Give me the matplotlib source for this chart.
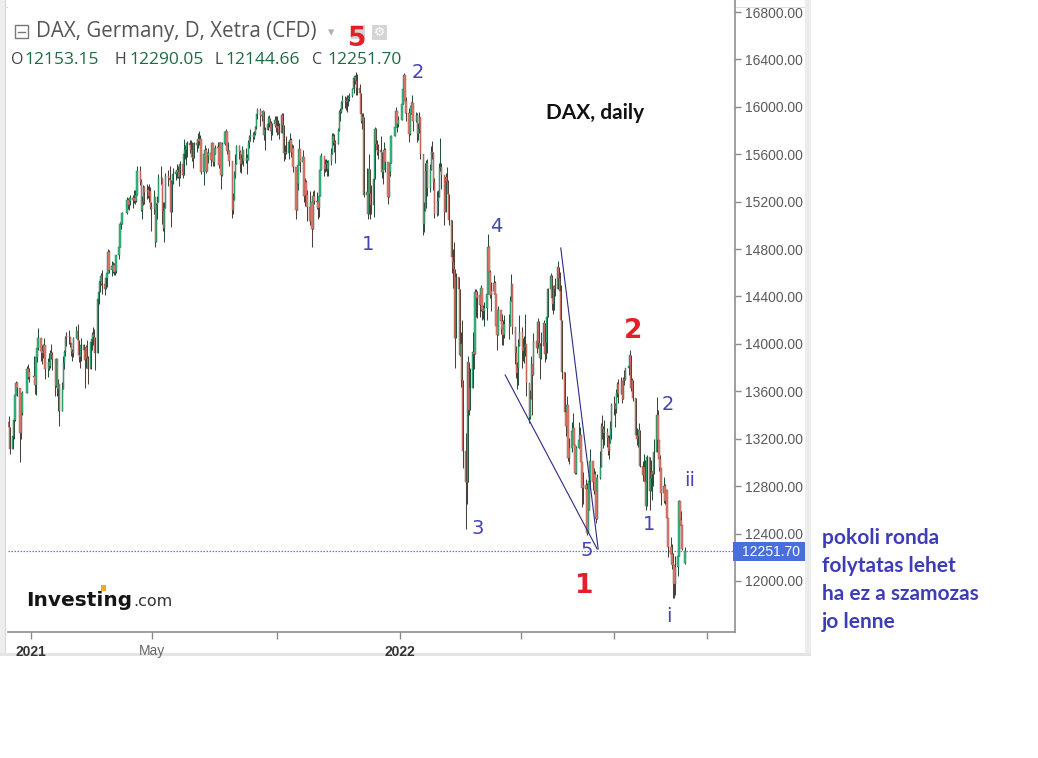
import numpy as np
import pandas as pd
import matplotlib
matplotlib.use("Agg")
import matplotlib.pyplot as plt
import matplotlib.dates as mdates
from matplotlib.patches import Rectangle
from matplotlib.lines import Line2D

# ---------------- data (daily DAX, Xetra CFD) ----------------
first_open = 13340
# Dec 2020 (from Dec 10)
close_2020 = [13295, 13114, 13223, 13362, 13565, 13667, 13630, 13246, 13418, 13587, 13790, 13761, 13719]
high_2020 = [13390, 13300, 13360, 13400, 13590, 13690, 13680, 13530, 13440, 13600, 13815, 13830, 13800]
low_2020 = [13200, 13070, 13150, 13200, 13350, 13580, 13560, 13000, 13200, 13400, 13630, 13700, 13680]

close_2021 = [
    13726, 13651, 13892, 13968, 14049, 13936, 13925, 13940, 13988, 13787, 13848, 13815, 13921, 13906, 13873, 13643, 13870, 13620, 13665, 13433,
    13622, 13835, 13933, 14060, 14057, 14060, 14011, 13932, 13921, 14050, 14109, 14034, 13909, 13887, 13993, 13950, 13865, 13976, 13879, 13786,
    14012, 14039, 14080, 14056, 13920, 14380, 14437, 14528, 14569, 14502, 14461, 14557, 14596, 14776, 14621, 14657, 14662, 14610, 14617, 14749, 14818, 15008, 15008,
    15107, 15212, 15176, 15203, 15234, 15215, 15234, 15209, 15255, 15460, 15368, 15129, 15196, 15320, 15280, 15296, 15249, 15292, 15155, 15136,
    15236, 14856, 15170, 15197, 15400, 15400, 15120, 14977, 15150, 15417, 15397, 15386, 15114, 15370, 15437, 15437, 15465, 15450, 15407, 15520, 15421,
    15603, 15632, 15632, 15693, 15677, 15640, 15581, 15571, 15693, 15674, 15729, 15710, 15728, 15448, 15603, 15636, 15456, 15589, 15608, 15554, 15691, 15531,
    15604, 15650, 15661, 15511, 15692, 15421, 15688, 15790, 15789, 15629, 15629, 15540, 15133, 15216, 15422, 15514, 15669, 15618, 15519, 15570, 15640, 15544,
    15568, 15555, 15692, 15744, 15761, 15745, 15770, 15826, 15937, 15977, 15925, 15921, 15965, 15765, 15808, 15852, 15906, 15860, 15794, 15852, 15888, 15835,
    15824, 15840, 15781, 15932, 15843, 15610, 15623, 15609, 15701, 15722, 15616, 15652, 15490, 15132, 15349, 15506, 15644, 15531, 15573, 15248, 15365, 15260,
    15156, 15036, 15195, 14973, 15250, 15206, 15199, 15147, 15250, 15463, 15587, 15474, 15516, 15522, 15473, 15543, 15599, 15757, 15705, 15696, 15688,
    15806, 15954, 15959, 16029, 16054, 16046, 16040, 16067, 16083, 16094, 16148, 16247, 16251, 16221, 16160, 16116, 15937, 15878, 15917, 15257, 15280, 15100,
    15473, 15263, 15170, 15387, 15814, 15687, 15639, 15623, 15622, 15453, 15476, 15637, 15531, 15239, 15447, 15524, 15756, 15833, 15964, 15852, 15885,
]
high_2021 = [
    13900, 13750, 13920, 14000, 14131, 14030, 13990, 14000, 14050, 13950, 13880, 13920, 13950, 14000, 13930, 13850, 13880, 13830, 13700, 13620,
    13680, 13900, 13950, 14070, 14100, 14120, 14060, 14010, 13960, 14060, 14150, 14170, 14000, 13950, 14050, 14000, 13880, 13990, 14030, 13900,
    14030, 14100, 14140, 14130, 14000, 14400, 14490, 14550, 14600, 14620, 14530, 14590, 14650, 14800, 14790, 14700, 14690, 14680, 14680, 14750, 14830, 15030, 15040,
    15110, 15240, 15230, 15240, 15260, 15260, 15300, 15300, 15320, 15500, 15500, 15390, 15250, 15340, 15330, 15350, 15330, 15350, 15320, 15200,
    15300, 15240, 15190, 15250, 15430, 15500, 15380, 15200, 15200, 15440, 15470, 15500, 15330, 15400, 15480, 15470, 15520, 15500, 15470, 15540, 15530,
    15730, 15680, 15690, 15710, 15720, 15720, 15700, 15620, 15700, 15730, 15780, 15800, 15760, 15630, 15630, 15680, 15650, 15620, 15650, 15680, 15700, 15640,
    15640, 15680, 15700, 15700, 15700, 15600, 15700, 15800, 15810, 15800, 15700, 15640, 15430, 15270, 15460, 15600, 15680, 15680, 15640, 15600, 15670, 15600,
    15650, 15600, 15720, 15760, 15810, 15790, 15800, 15840, 15940, 15990, 15990, 15960, 15970, 15900, 15830, 15920, 15930, 15910, 15880, 15860, 15920, 15920,
    15920, 15890, 15860, 15950, 15950, 15830, 15680, 15750, 15710, 15780, 15740, 15690, 15680, 15450, 15390, 15540, 15730, 15640, 15640, 15480, 15400, 15380,
    15300, 15290, 15200, 15050, 15290, 15300, 15280, 15210, 15290, 15480, 15610, 15560, 15560, 15560, 15550, 15550, 15650, 15780, 15780, 15770, 15720,
    15820, 15970, 15990, 16050, 16100, 16090, 16080, 16100, 16100, 16120, 16160, 16260, 16270, 16290, 16280, 16190, 16000, 15950, 15950, 15700, 15480, 15420,
    15600, 15460, 15340, 15420, 15830, 15820, 15720, 15690, 15750, 15560, 15520, 15700, 15650, 15480, 15460, 15540, 15760, 15870, 16000, 15950, 15920,
]
low_2021 = [
    13670, 13580, 13570, 13850, 13950, 13860, 13830, 13880, 13900, 13700, 13720, 13780, 13800, 13870, 13780, 13560, 13640, 13560, 13430, 13310,
    13450, 13640, 13790, 13900, 13980, 14000, 13970, 13900, 13860, 13890, 14060, 13990, 13850, 13800, 13860, 13880, 13630, 13800, 13850, 13660,
    13860, 13950, 13990, 13950, 13780, 14020, 14340, 14440, 14500, 14420, 14410, 14460, 14480, 14620, 14600, 14570, 14600, 14580, 14580, 14600, 14720, 14820, 14970,
    15010, 15100, 15140, 15130, 15170, 15150, 15190, 15180, 15200, 15300, 15340, 15120, 15050, 15170, 15180, 15220, 15230, 15200, 15140, 14950,
    15100, 14820, 14900, 15050, 15200, 15350, 15010, 14950, 14860, 15200, 15330, 15320, 14990, 15120, 15350, 15380, 15400, 15400, 15330, 15400, 15400,
    15560, 15560, 15510, 15580, 15610, 15600, 15540, 15480, 15590, 15620, 15650, 15680, 15600, 15430, 15340, 15560, 15440, 15500, 15530, 15500, 15540, 15500,
    15500, 15600, 15620, 15480, 15530, 15310, 15420, 15680, 15700, 15600, 15570, 15500, 15060, 15100, 15230, 15400, 15520, 15560, 15450, 15440, 15520, 15500,
    15530, 15430, 15580, 15650, 15710, 15700, 15730, 15760, 15810, 15900, 15840, 15880, 15820, 15720, 15640, 15820, 15830, 15830, 15720, 15760, 15830, 15790,
    15760, 15770, 15730, 15800, 15800, 15540, 15560, 15600, 15560, 15640, 15580, 15570, 15450, 15050, 15160, 15300, 15520, 15450, 15450, 15200, 15160, 15160,
    15040, 15000, 14990, 14820, 15100, 15180, 15140, 15050, 15070, 15330, 15480, 15420, 15450, 15460, 15420, 15420, 15510, 15610, 15680, 15620, 15530,
    15700, 15800, 15880, 15950, 15980, 15990, 15970, 15960, 16010, 16050, 16080, 16120, 16190, 16100, 16100, 16050, 15860, 15810, 15860, 15240, 15180, 15050,
    15250, 15050, 15100, 15070, 15450, 15660, 15590, 15560, 15600, 15400, 15350, 15560, 15450, 15180, 15250, 15420, 15560, 15750, 15880, 15790, 15830,
]

close_2022 = [
    16020, 16152, 16271, 16052, 15948, 15768, 15942, 16010, 16031, 15883, 15933, 15772, 15810, 15912, 15603, 15011, 15123, 15460, 15524, 15318, 15471,
    15619, 15613, 15368, 15100, 15207, 15242, 15482, 15490, 15425, 15113, 15412, 15370, 15268, 15042, 14731, 14693, 14631, 14052, 14567, 14461,
    13905, 14000, 13698, 13094, 12835, 12831, 13848, 13443, 13628, 13929, 13918, 14441, 14388, 14413, 14326, 14473, 14283, 14274, 14306, 14418, 14820, 14606, 14415,
    14446, 14518, 14424, 14152, 14078, 14284, 14193, 14125, 14077, 14164, 14153, 14362, 14502, 14142, 13924, 13757, 13793, 13979, 14098,
    13940, 13970, 13971, 14000, 13674, 13381, 13535, 13828, 13739, 14027, 13964, 14186, 14008, 13882, 13982, 14175, 13919, 14008, 14231, 14462, 14575, 14388,
    14340, 14485, 14460, 14653, 14556, 14446, 14198, 13761, 13427, 13304, 13483, 13038, 13126, 13265, 13292, 13145, 12912, 13118, 13186, 13231, 13003, 12784,
    12813, 12773, 12401, 12595, 12843, 13015, 12832, 12906, 12756, 12519, 12865, 12959, 13308, 13282, 13246, 13254, 13210, 13097, 13166, 13282, 13484,
    13479, 13449, 13587, 13662, 13574, 13688, 13535, 13700, 13694, 13795, 13817, 13910, 13627, 13697, 13544, 13230, 13195, 13220, 13271, 12971, 12892, 12961, 12835,
    12631, 13050, 12761, 12871, 12916, 12904, 13088, 13403, 13189, 13028, 12956, 12741, 12803, 12671, 12767, 12531, 12284, 12228, 12140, 12139, 11976, 12114,
    12209, 12671, 12517, 12471, 12273, 12251.70,
]
high_2022 = [
    16030, 16200, 16285, 16150, 16080, 15990, 15950, 16040, 16100, 16000, 15960, 15950, 15860, 15960, 15800, 15500, 15200, 15530, 15550, 15560, 15520,
    15670, 15710, 15620, 15400, 15290, 15300, 15530, 15740, 15530, 15250, 15440, 15490, 15380, 15160, 15000, 14800, 14860, 14600, 14600, 14550,
    14400, 14100, 14200, 13650, 13250, 13100, 13900, 13800, 13800, 14100, 14100, 14460, 14460, 14450, 14430, 14500, 14420, 14330, 14350, 14430, 14925, 14830, 14620,
    14520, 14580, 14530, 14350, 14170, 14320, 14280, 14250, 14200, 14240, 14250, 14400, 14590, 14410, 14070, 13980, 13850, 14040, 14240,
    14140, 14050, 14070, 14250, 13900, 13580, 13610, 13900, 13760, 14090, 14070, 14220, 14190, 13920, 14100, 14200, 14120, 14040, 14260, 14470, 14600, 14580,
    14420, 14500, 14560, 14700, 14640, 14610, 14500, 14000, 13630, 13480, 13560, 13450, 13210, 13340, 13420, 13240, 13100, 13140, 13340, 13300, 13170, 12890,
    12920, 12860, 12830, 12640, 12900, 13110, 12960, 12950, 12930, 12770, 12900, 13100, 13330, 13400, 13310, 13360, 13290, 13230, 13230, 13350, 13500,
    13560, 13500, 13620, 13680, 13700, 13720, 13620, 13720, 13780, 13800, 13830, 13950, 13900, 13710, 13690, 13420, 13290, 13260, 13330, 13270, 13010, 13070, 13020,
    12870, 13060, 12800, 13020, 12930, 13000, 13200, 13550, 13440, 13160, 13060, 12850, 12880, 12820, 12770, 12660, 12500, 12370, 12310, 12240, 12070, 12210,
    12240, 12680, 12650, 12590, 12420, 12290.05,
]
low_2022 = [
    15900, 16030, 16150, 15950, 15880, 15700, 15760, 15950, 15970, 15800, 15870, 15700, 15720, 15780, 15560, 14920, 14940, 15250, 15150, 15250, 15280,
    15470, 15560, 15300, 15060, 15080, 15090, 15280, 15460, 15310, 15000, 15130, 15300, 15170, 15000, 14600, 14470, 14600, 13800, 14100, 14050,
    13900, 13640, 13600, 12950, 12440, 12650, 13200, 13400, 13500, 13760, 13790, 14100, 14230, 14220, 14230, 14280, 14200, 14210, 14150, 14200, 14450, 14500, 14390,
    14280, 14420, 14380, 14130, 13950, 14100, 14080, 13990, 13990, 14050, 14040, 14250, 14390, 14080, 13830, 13710, 13620, 13650, 13990,
    13800, 13860, 13840, 13900, 13560, 13330, 13370, 13560, 13400, 13800, 13920, 14060, 13940, 13700, 13870, 14000, 13850, 13870, 13920, 14250, 14450, 14290,
    14250, 14290, 14400, 14550, 14480, 14400, 14180, 13700, 13400, 13220, 13290, 13010, 12990, 13090, 13230, 12960, 12900, 12900, 13150, 13120, 12940, 12620,
    12650, 12730, 12390, 12420, 12630, 12780, 12770, 12730, 12650, 12490, 12630, 12860, 12970, 13200, 13120, 13150, 13130, 13060, 13030, 13170, 13200,
    13400, 13300, 13420, 13550, 13500, 13610, 13500, 13560, 13650, 13700, 13740, 13780, 13600, 13570, 13520, 13210, 13150, 13130, 13170, 12960, 12840, 12860, 12820,
    12600, 12660, 12600, 12790, 12680, 12800, 12960, 13130, 13090, 12930, 12880, 12640, 12660, 12650, 12540, 12420, 12200, 12140, 12100, 11860, 11860, 11880,
    12040, 12270, 12470, 12400, 12260, 12144.66,
]
last_open = 12153.15
last_ohlc_text = ["12153.15", "12290.05", "12144.66", "12251.70"]

holidays = ["2020-12-24", "2020-12-25", "2020-12-31", "2021-01-01", "2021-04-02",
            "2021-04-05", "2021-12-24", "2021-12-31", "2022-04-15", "2022-04-18"]

price_ticks = [12000, 12400, 12800, 13200, 13600, 14000, 14400, 14800,
               15200, 15600, 16000, 16400, 16800]
time_ticks = ["2021-01-01", "2021-05-01", "2021-09-01", "2022-01-01",
              "2022-05-01", "2022-08-01", "2022-11-01"]
time_labels = ["2021", "May", "", "2022", "", "", ""]

# ---------------- assemble ----------------
close = np.array(close_2020 + close_2021 + close_2022, dtype=float)
high = np.array(high_2020 + high_2021 + high_2022, dtype=float)
low = np.array(low_2020 + low_2021 + low_2022, dtype=float)
n = min(len(close), len(high), len(low))
close, high, low = close[:n], high[:n], low[:n]
opn = np.concatenate([[first_open], close[:-1]])
opn[-1] = last_open
high = np.maximum(high, np.maximum(opn, close))
low = np.minimum(low, np.minimum(opn, close))

bd = pd.bdate_range("2020-12-10", "2023-01-31")
bd = bd[~bd.isin(pd.to_datetime(holidays))]
dates = mdates.date2num(bd[:n].to_pydatetime())

W, H = 1038, 758
fig = plt.figure(figsize=(W / 100, H / 100), dpi=100)
fig.patch.set_facecolor("white")

def fx(x):
    return x / W

def fy(y):
    return 1 - y / H

ax = fig.add_axes([fx(8), fy(632), 727 / W, 632 / H])
ax.set_facecolor("white")

up = close >= opn
body_bot = np.minimum(opn, close)
body_h = np.maximum(np.abs(close - opn), 10)
ax.vlines(dates[up], low[up], high[up], color="#24503c", lw=0.75, zorder=2)
ax.vlines(dates[~up], low[~up], high[~up], color="#4d4039", lw=0.75, zorder=2)
ax.bar(dates[up], body_h[up], bottom=body_bot[up], width=1.35,
       color="#2ec384", edgecolor="#2a6a4c", linewidth=0.3, zorder=3)
ax.bar(dates[~up], body_h[~up], bottom=body_bot[~up], width=1.35,
       color="#ec7a6f", edgecolor="#8a5047", linewidth=0.3, zorder=3)

# wedge lines
d = lambda s: mdates.date2num(pd.Timestamp(s))
ax.plot([d("2022-06-09"), d("2022-07-16")], [14809, 12270], color="#2b2b85", lw=0.8, zorder=4)
ax.plot([d("2022-04-15"), d("2022-07-15")], [13738, 12270], color="#2b2b85", lw=0.8, zorder=4)

# last price line
ax.axhline(close[-1], color="#5a78da", lw=0.9, ls=(0, (1.2, 1.2)), zorder=1)

x0 = mdates.date2num(pd.Timestamp("2021-01-01")) + (8 - 31) / 1.011
x1 = mdates.date2num(pd.Timestamp("2021-01-01")) + (735 - 31) / 1.011
ax.set_xlim(x0, x1)
ax.set_ylim(16800 - 620 / 0.11854, 16800 + 12 / 0.11854)

ax.yaxis.tick_right()
ax.set_yticks(price_ticks)
ax.set_yticklabels([f"{v:.2f}" for v in price_ticks])
ax.tick_params(axis="y", direction="out", length=4, width=1, color="#8a8a8a",
               labelcolor="#5a5a5a", labelsize=10, pad=3)
for t in ax.get_yticklabels():
    t.set_fontfamily("Liberation Sans")

ax.set_xticks([d(s) for s in time_ticks])
ax.set_xticklabels(time_labels)
ax.tick_params(axis="x", direction="out", length=5, width=1, color="#8a8a8a",
               labelsize=10, pad=4)
for t, lab in zip(ax.get_xticklabels(), time_labels):
    t.set_fontfamily("Liberation Sans")
    if lab in ("2021", "2022"):
        t.set_fontweight("bold")
        t.set_color("#333333")
    else:
        t.set_color("#666666")

for s in ["left", "top"]:
    ax.spines[s].set_visible(False)
for s in ["right", "bottom"]:
    ax.spines[s].set_color("#8f8f8f")
    ax.spines[s].set_linewidth(1.2)

# price tag
fig.add_artist(Rectangle((fx(733), fy(561)), 72 / W, 19 / H, transform=fig.transFigure,
                         facecolor="#4a6fdc", edgecolor="none", zorder=5))
fig.text(fx(742), fy(551.5), "12251.70", color="white", fontsize=10,
         family="Liberation Sans", va="center", ha="left", zorder=6)

# panel frame
def frect(x, y, w, h, c, z=0):
    fig.add_artist(Rectangle((fx(x), fy(y + h)), w / W, h / H, transform=fig.transFigure,
                             facecolor=c, edgecolor="none", zorder=z))

frect(0, 0, 5, 655, "#eeeeee")
frect(5, 0, 1, 655, "#d6d6d6")
frect(805, 0, 6, 655, "#ececec")
frect(0, 653, 811, 3, "#e4e4e4")
frect(6, 7, 799, 1, "#dcdcdc")

# header
fig.add_artist(Rectangle((fx(15), fy(38)), 13 / W, 13 / H, transform=fig.transFigure,
                         facecolor="white", edgecolor="#777777", lw=1.0))
fig.add_artist(Line2D([fx(18), fx(25)], [fy(31.5), fy(31.5)], transform=fig.transFigure,
                      color="#777777", lw=1.0))
fig.text(fx(36), fy(32), "DAX, Germany, D, Xetra (CFD)", fontsize=14.8, family="Open Sans",
         color="#555555", va="center", ha="left")
fig.text(fx(331), fy(33), "\u25be", fontsize=9, color="#b0b0b0", va="center", ha="center")
frect(351, 25, 14, 14, "#d5d5d5", 1)
frect(372, 25, 15, 15, "#d5d5d5", 1)
fig.text(fx(379.5), fy(32.5), "\u2699", fontsize=9, color="white", va="center", ha="center", zorder=2)

ohlc_letters = ["O", "H", "L", "C"]
ohlc_lx = [11, 114, 215, 312]
ohlc_nx = [24, 129, 225, 327]
for L, lx, nx, v in zip(ohlc_letters, ohlc_lx, ohlc_nx, last_ohlc_text):
    fig.text(fx(lx), fy(60), L, fontsize=11.5, family="Open Sans", color="#444444", va="center")
    fig.text(fx(nx), fy(60), v, fontsize=12.5, family="Open Sans", color="#1d6b42", va="center")

# logo
fig.text(fx(26), fy(606), "Investing", fontsize=14.5, family="DejaVu Sans", weight="bold",
         color="#151515", va="baseline", ha="left")
fig.text(fx(133), fy(606), ".com", fontsize=11.5, family="DejaVu Sans", color="#333333",
         va="baseline", ha="left")
frect(101, 585, 5, 6, "#f5a623", 3)

# wave labels
blue = "#4444b8"
red = "#e3202a"
wave_blue = [("2", 418, 73), ("1", 368, 245), ("4", 496, 227), ("3", 478, 528),
             ("5", 587, 551), ("1", 649, 525), ("2", 668, 404), ("ii", 690, 480), ("i", 669, 617)]
for s, x, y in wave_blue:
    fig.text(fx(x), fy(y), s, fontsize=14, color=blue, ha="center", va="center", family="DejaVu Sans")
wave_red = [("5", 357, 38.5), ("1", 584, 586), ("2", 633, 331)]
for s, x, y in wave_red:
    fig.text(fx(x), fy(y), s, fontsize=19, color=red, ha="center", va="center",
             family="DejaVu Sans", weight="bold", zorder=5)

fig.text(fx(595), fy(113), "DAX, daily", fontsize=15, family="Lato", weight="bold",
         color="#111111", ha="center", va="center")

notes = ["pokoli ronda", "folytatas lehet", "ha ez a szamozas", "jo lenne"]
for i, s in enumerate(notes):
    fig.text(fx(822), fy(538 + 28 * i), s, fontsize=15, family="Lato", weight="bold",
             color="#3d3db8", ha="left", va="center")

fig.savefig("out.png", dpi=100, facecolor="white")
